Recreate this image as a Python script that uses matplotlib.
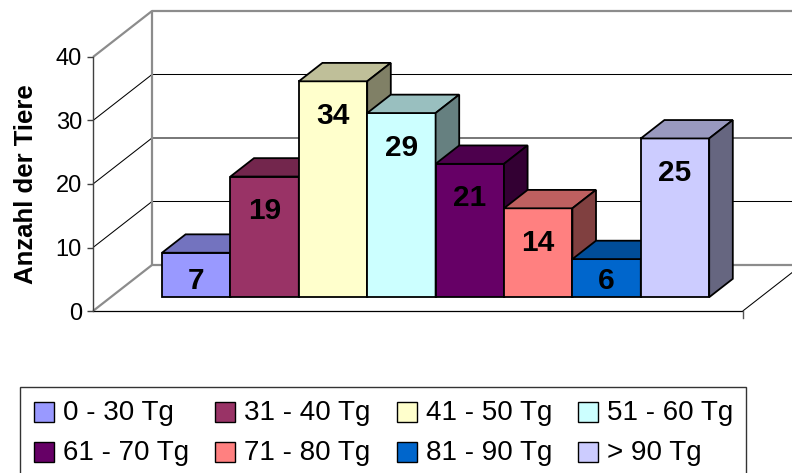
import matplotlib
matplotlib.use('Agg')
import matplotlib.pyplot as plt
from matplotlib.patches import Polygon, Rectangle

# ---------------- data ----------------
categories = ['0 - 30 Tg', '31 - 40 Tg', '41 - 50 Tg', '51 - 60 Tg',
              '61 - 70 Tg', '71 - 80 Tg', '81 - 90 Tg', '> 90 Tg']
values = [7, 19, 34, 29, 21, 14, 6, 25]
colors = ['#9999FF', '#993366', '#FFFFCC', '#CCFFFF',
          '#660066', '#FF8080', '#0066CC', '#CCCCFF']
yticks = [0, 10, 20, 30, 40]
ylabel = 'Anzahl der Tiere'

plt.rcParams['font.family'] = ['Liberation Sans', 'DejaVu Sans']

W, H = 792, 473
fig = plt.figure(figsize=(W / 100, H / 100), dpi=100)
fig.patch.set_facecolor('white')

# ---------------- layout (pixels) ----------------
AX_LEFT, AX_RIGHT = 93, 792
Y0_PX, YTOP_PX = 311, 57
ax = fig.add_axes([AX_LEFT / W, (H - Y0_PX) / H,
                   (AX_RIGHT - AX_LEFT) / W, (Y0_PX - YTOP_PX) / H])
ax.set_facecolor('none')

PX_PER_BAR = 68.4
n = len(values)
half_gap = 0.75
xl, xr = -half_gap, n + half_gap
ymin, ymax = yticks[0], yticks[-1]
ax.set_xlim(xl, xl + (AX_RIGHT - AX_LEFT) / PX_PER_BAR)
ax.set_ylim(ymin, ymax)
px_per_val = (Y0_PX - YTOP_PX) / (ymax - ymin)
DX = 59 / PX_PER_BAR
DY = 46 / px_per_val
Z_FRONT, Z_BACK = 0.3, 0.7


def proj(x, y, z):
    return (x + z * DX, y + z * DY)


def poly(pts, fc, ec, lw, zorder):
    p = Polygon([proj(*q) for q in pts], closed=True, facecolor=fc,
                edgecolor=ec, linewidth=lw, clip_on=False, zorder=zorder,
                joinstyle='miter')
    ax.add_patch(p)


def line(pts, color, lw, zorder):
    xs, ys = zip(*[proj(*q) for q in pts])
    ax.plot(xs, ys, color=color, linewidth=lw, clip_on=False,
            zorder=zorder, solid_capstyle='butt')


def shade(c, f):
    r, g, b = matplotlib.colors.to_rgb(c)
    return (r * f, g * f, b * f)


WALL_GRAY = '#8c8c8c'
# gridlines on left + back wall
for v in yticks[1:-1]:
    line([(xl, v, 0), (xl, v, 1), (xr, v, 1)], 'black', 0.75, 1)
# wall borders
line([(xl, ymin, 0), (xl, ymin, 1), (xr, ymin, 1)], WALL_GRAY, 1.6, 2)
line([(xl, ymax, 0), (xl, ymax, 1), (xr, ymax, 1)], WALL_GRAY, 1.6, 2)
line([(xl, ymin, 1), (xl, ymax, 1)], WALL_GRAY, 1.6, 2)
# floor front + right edge
line([(xl, ymin, 0), (xr, ymin, 0)], 'black', 0.9, 2)
line([(xr, ymin, 0), (xr, ymin, 1)], 'black', 0.75, 2)
ax.plot([xr, xr], [ymin, ymin - 7 / px_per_val], color='#555555',
        linewidth=1.0, clip_on=False, zorder=2)

# bars
for i, (v, c) in enumerate(zip(values, colors)):
    zo = 10 + i
    x0, x1 = i, i + 1
    poly([(x0, 0, Z_FRONT), (x1, 0, Z_FRONT), (x1, v, Z_FRONT), (x0, v, Z_FRONT)],
         c, 'black', 1.3, zo)
    poly([(x0, v, Z_FRONT), (x1, v, Z_FRONT), (x1, v, Z_BACK), (x0, v, Z_BACK)],
         shade(c, 0.75), 'black', 1.3, zo)
    poly([(x1, 0, Z_FRONT), (x1, 0, Z_BACK), (x1, v, Z_BACK), (x1, v, Z_FRONT)],
         shade(c, 0.5), 'black', 1.3, zo)
    lx, ly = proj(i + 0.5, max(v - 6.7, 1.3), Z_FRONT)
    ax.text(lx, ly, str(v), ha='center', va='baseline', fontsize=21.5,
            fontweight='bold', color='black', zorder=30)

# y axis (front edge of left wall)
for s in ['top', 'right', 'bottom']:
    ax.spines[s].set_visible(False)
ax.spines['left'].set_color('#404040')
ax.spines['left'].set_linewidth(1.0)
ax.spines['left'].set_zorder(3)
ax.set_xticks([])
ax.set_yticks(yticks)
ax.tick_params(axis='y', direction='out', length=4.5, width=1.0,
               color='#404040', labelsize=17, pad=3.5)
ax.set_ylabel(ylabel, fontsize=18.5, fontweight='bold', labelpad=13)

# ---------------- legend (manual, Excel style) ----------------
def fx(px):
    return px / W


def fy(py):
    return 1 - py / H


frame = Rectangle((fx(20), fy(480)), fx(746) - fx(20), fy(387) - fy(480),
                  transform=fig.transFigure, facecolor='white',
                  edgecolor='#333333', linewidth=1.0, clip_on=False)
fig.add_artist(frame)
ncol = 4
col_x0, col_step = 34, 181.3
row_base = [420, 460]
sq = 20
for k, (lab, c) in enumerate(zip(categories, colors)):
    r, cidx = divmod(k, ncol)
    sx = col_x0 + cidx * col_step
    sy_bottom = row_base[r] + 2
    fig.add_artist(Rectangle((fx(sx), fy(sy_bottom)), fx(sq), sq / H,
                             transform=fig.transFigure, facecolor=c,
                             edgecolor='black', linewidth=1.0))
    fig.text(fx(sx + 29), fy(row_base[r]), lab, fontsize=20,
             ha='left', va='baseline', color='black')

fig.savefig('out.png', dpi=100, facecolor='white')
